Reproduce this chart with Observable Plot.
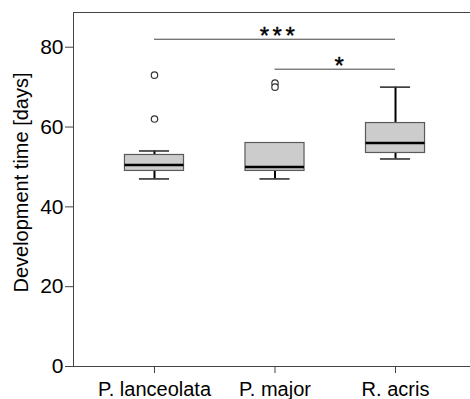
<!DOCTYPE html>
<html>
<head>
<meta charset="utf-8">
<script src="https://cdn.jsdelivr.net/npm/d3@7"></script>
<script src="https://cdn.jsdelivr.net/npm/@observablehq/plot@0.6"></script>
<style>
  html, body { margin: 0; padding: 0; background: white; }
</style>
</head>
<body>
<div id="chart"></div>
<script>
// ---- data ----
const species = ["P. lanceolata", "P. major", "R. acris"];
const whiskerLow = [47, 47, 52];
const quartile1 = [49, 49, 53.5];
const medians = [50.5, 50, 56];
const quartile3 = [53, 56, 61];
const whiskerHigh = [54, 56, 70];
const outlierSpecies = ["P. lanceolata", "P. lanceolata", "P. major", "P. major"];
const outlierValues = [73, 62, 71, 70];
const sigFrom = ["P. lanceolata", "P. major"];
const sigTo = ["R. acris", "R. acris"];
const sigY = [82, 74.5];
const sigLabels = ["***", "*"];
const yTicks = [0, 20, 40, 60, 80];
const yLabel = "Development time [days]";

// ---- chart ----
const idx = species.map((_, i) => i);
const pos = s => species.indexOf(s);
const half = 0.245, capHalf = 0.125;

const chart = Plot.plot({
  width: 470,
  height: 399,
  marginLeft: 73,
  marginRight: -6,
  marginTop: 12,
  marginBottom: 33,
  style: {fontFamily: "'Liberation Sans', Arial, sans-serif", background: "white", color: "black"},
  x: {domain: [-0.672, 2.672], axis: null},
  y: {domain: [0, 88.7], axis: null},
  marks: [
    Plot.frame({stroke: "#444", strokeWidth: 1}),
    Plot.axisX(idx, {tickFormat: i => species[i], tickSize: 7, tickPadding: 8, fontSize: 20, stroke: "#444", fill: "black", label: null}),
    Plot.axisY(yTicks, {tickSize: 8, tickPadding: 2, fontSize: 21, stroke: "#444", fill: "black", label: null}),
    Plot.text([yLabel], {frameAnchor: "left", textAnchor: "middle", rotate: -90, dx: -52, dy: -7, fontSize: 20, fill: "black", text: d => d}),
    // whiskers
    Plot.ruleX(idx, {x: i => i, y1: i => quartile3[i], y2: i => whiskerHigh[i], stroke: "black", strokeWidth: 2}),
    Plot.ruleX(idx, {x: i => i, y1: i => whiskerLow[i], y2: i => quartile1[i], stroke: "black", strokeWidth: 2}),
    Plot.ruleY(idx, {y: i => whiskerHigh[i], x1: i => i - capHalf, x2: i => i + capHalf, stroke: "#333", strokeWidth: 1.6}),
    Plot.ruleY(idx, {y: i => whiskerLow[i], x1: i => i - capHalf, x2: i => i + capHalf, stroke: "#333", strokeWidth: 1.6}),
    // boxes
    Plot.rect(idx, {x1: i => i - half, x2: i => i + half, y1: i => quartile1[i], y2: i => quartile3[i], fill: "#cccccc", stroke: "#5a5a5a", strokeWidth: 1.2}),
    Plot.ruleY(idx, {y: i => medians[i], x1: i => i - half, x2: i => i + half, stroke: "black", strokeWidth: 2.6}),
    // outliers
    Plot.dot(outlierValues, {x: (d, i) => pos(outlierSpecies[i]), y: d => d, r: 3.2, stroke: "#333", fill: "white", strokeWidth: 1.2}),
    // significance brackets
    Plot.ruleY(sigY, {y: d => d, x1: (d, i) => pos(sigFrom[i]), x2: (d, i) => pos(sigTo[i]), stroke: "#444", strokeWidth: 1}),
    Plot.text(sigLabels, {x: (d, i) => (pos(sigFrom[i]) + pos(sigTo[i])) / 2, y: (d, i) => sigY[i], text: d => d, lineAnchor: "bottom", dy: 5, dx: 4, fontSize: 24, fill: "black", stroke: "black", strokeWidth: 0.4})
  ]
});

d3.select(chart).selectAll("text").filter(function() { return this.textContent === "***"; })
  .attr("letter-spacing", "3.5px");

document.getElementById("chart").appendChild(chart);
</script>
</body>
</html>
